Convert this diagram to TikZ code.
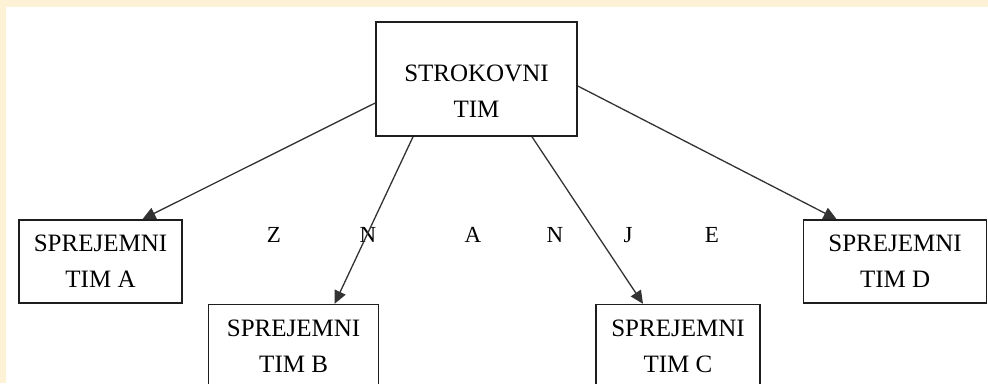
\documentclass[tikz,border=0pt]{standalone}
\usepackage{fontspec}
\setmainfont{Liberation Serif}
\usetikzlibrary{calc}
\usetikzlibrary{positioning}
\usetikzlibrary{arrows.meta}
\definecolor{pagecream}{RGB}{253,242,214}
\definecolor{boxline}{RGB}{30,30,30}
\tikzset{x=1pt, y=-1pt, % pixel coordinates, y running down
  every node/.style={align=center,
    font=\fontsize{25}{36}\selectfont},
  team/.style={ % boxes of the teams
    draw=boxline, line width=1.6pt,
    inner sep=0pt, minimum height=83pt},
  letter/.style={font=\fontsize{23}{28}\selectfont},
  every edge/.style={ % arrows from the expert team
    draw=black!80, line width=1.3pt,
    -{Triangle[length=13pt,width=12pt]}}}

\begin{document}
\begin{tikzpicture}
  % page background
  \fill[pagecream] (0,0) rectangle (988,383);
  \fill[white] (6,7) rectangle (988,383);
  \useasboundingbox (0,0) rectangle (988,383);

  \node [team, minimum width=201pt, minimum height=114pt,
    label={[align=center, yshift=-12pt]center:STROKOVNI\\TIM}] (st) at (476.5,79) {};

  \node [team, minimum width=163pt] (tA) at (100.5,261.5) {SPREJEMNI\\TIM A};
  \node [team, minimum width=183pt, right=620pt of tA] (tD) {SPREJEMNI\\TIM D};
  \node [team, minimum width=170pt, below right=0pt and 25pt of tA] (tB) {SPREJEMNI\\TIM B};
  \node [team, minimum width=164pt, below left=0pt and 42pt of tD] (tC) {SPREJEMNI\\TIM C};

  % the word between the teams
  \node [letter] (lZ) at (274,235) {Z};
  \node [letter] (lN) at (368,235) {N};
  \node [letter] (lA) at (473,235) {A};
  \node [letter] (lNN) at (555,235) {N};
  \node [letter] (lJ) at (628,235) {J};
  \node [letter] (lE) at (712,235) {E};

  % knowledge flows down
  \draw ($(st.west)+(0,24)$) edge ($(tA.north)+(42,0)$);
  \draw ($(st.south)+(-63.5,0)$) edge ($(tB.north)+(41,0)$);
  \draw ($(st.south)+(55.5,0)$) edge ($(tC.north)+(-35,0)$);
  \draw ($(st.east)+(0,7)$) edge ($(tD.north)+(-58.5,0)$);

\end{tikzpicture}
\end{document}
